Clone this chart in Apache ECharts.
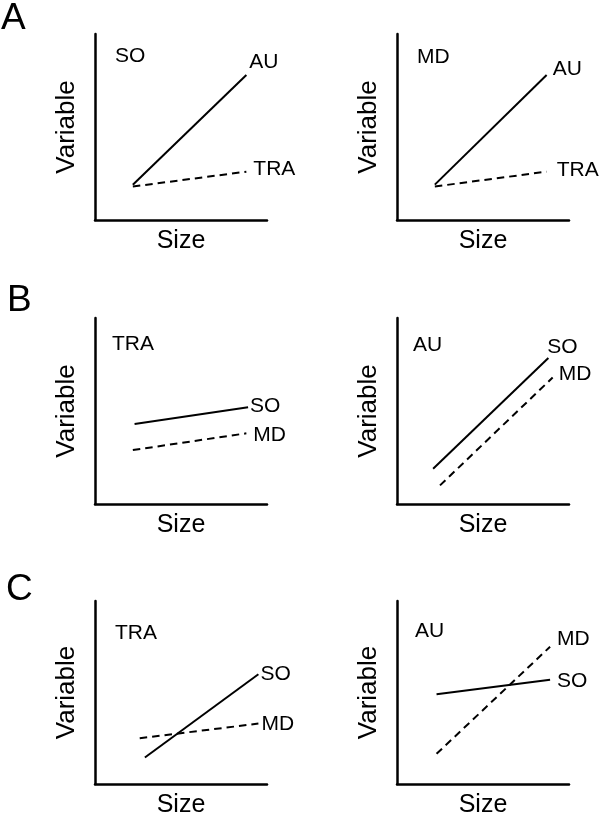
<!DOCTYPE html>
<html>
<head>
<meta charset="utf-8">
<script src="https://cdn.jsdelivr.net/npm/echarts@6/dist/echarts.min.js"></script>
<style>
html,body{margin:0;padding:0;background:#fff;}
#chart{width:600px;height:819px;}
</style>
</head>
<body>
<div id="chart"></div>
<script>
// ---- Data (schematic values on a 0-10 scale for each panel) ----
const panelLetters = ['A', 'B', 'C'];
const panelTitles = ['SO', 'MD', 'TRA', 'AU', 'TRA', 'AU'];
const xAxisName = 'Size';
const yAxisName = 'Variable';

// Panel A left (SO)
const aLeftAU  = [[2.2, 1.9], [8.8, 7.8]];
const aLeftTRA = [[2.2, 1.8], [8.8, 2.6]];
// Panel A right (MD)
const aRightAU  = [[2.2, 1.9], [8.7, 7.8]];
const aRightTRA = [[2.2, 1.8], [8.7, 2.6]];
// Panel B left (TRA)
const bLeftSO = [[2.3, 4.3], [8.9, 5.2]];
const bLeftMD = [[2.2, 2.9], [8.8, 3.8]];
// Panel B right (AU)
const bRightSO = [[2.1, 1.9], [8.8, 7.85]];
const bRightMD = [[2.5, 1.0], [9.05, 6.8]];
// Panel C left (TRA)
const cLeftSO = [[2.9, 1.45], [9.5, 6.0]];
const cLeftMD = [[2.6, 2.5], [9.5, 3.3]];
// Panel C right (AU)
const cRightSO = [[2.3, 4.9], [8.9, 5.7]];
const cRightMD = [[2.3, 1.65], [8.9, 7.5]];

// ---- Layout / styles ----
const FONT = 'Liberation Sans, Arial, Helvetica, sans-serif';
const cols = [95, 397];
const rows = [34, 318, 601];
const GW = 172, GH = 186;

const grids = [], xAxes = [], yAxes = [];
for (let r = 0; r < 3; r++) {
  for (let c = 0; c < 2; c++) {
    const i = grids.length;
    grids.push({ left: cols[c], top: rows[r], width: GW, height: GH });
    xAxes.push({
      type: 'value', gridIndex: i, min: 0, max: 10,
      name: xAxisName, nameLocation: 'middle', nameGap: 9,
      nameTextStyle: { fontSize: 25, color: '#000', fontFamily: FONT, verticalAlign: 'top' },
      axisLine: { show: true, lineStyle: { color: '#000', width: 2.5 } },
      axisTick: { show: false }, axisLabel: { show: false }, splitLine: { show: false }
    });
    yAxes.push({
      type: 'value', gridIndex: i, min: 0, max: 10,
      name: yAxisName, nameLocation: 'middle', nameGap: 15,
      nameTextStyle: { fontSize: 26, color: '#000', fontFamily: FONT },
      axisLine: { show: true, lineStyle: { color: '#000', width: 2.5 } },
      axisTick: { show: false }, axisLabel: { show: false }, splitLine: { show: false }
    });
  }
}

function mkSeries(name, data, idx, dashed, offset) {
  return {
    type: 'line', name: name, data: data,
    xAxisIndex: idx, yAxisIndex: idx,
    symbol: 'none', silent: true, animation: false,
    lineStyle: { color: '#000', width: 2, type: dashed ? [7.5, 5] : 'solid' },
    endLabel: {
      show: true, formatter: '{a}', distance: 0, offset: offset,
      fontSize: 21, color: '#000', fontFamily: FONT, align: 'left', verticalAlign: 'middle'
    }
  };
}

const series = [
  mkSeries('AU', aLeftAU, 0, false, [3, -13]),
  mkSeries('TRA', aLeftTRA, 0, true, [7, -2]),
  mkSeries('AU', aRightAU, 1, false, [6, -6]),
  mkSeries('TRA', aRightTRA, 1, true, [10, -1]),
  mkSeries('SO', bLeftSO, 2, false, [2, -1]),
  mkSeries('MD', bLeftMD, 2, true, [7, 2]),
  mkSeries('SO', bRightSO, 3, false, [-1, -11]),
  mkSeries('MD', bRightMD, 3, true, [6, -3]),
  mkSeries('SO', cLeftSO, 4, false, [2, 0]),
  mkSeries('MD', cLeftMD, 4, true, [3, 1]),
  mkSeries('MD', cRightMD, 5, true, [7, -8]),
  mkSeries('SO', cRightSO, 5, false, [7, 2])
];

const titlePos = [[115, 46], [417, 47], [112, 334], [413, 335], [115, 623], [415, 621]];
const letterPos = [[1, 0], [7, 282], [6, 571]];
const titles = [];
panelTitles.forEach((t, i) => titles.push({
  text: t, left: titlePos[i][0], top: titlePos[i][1], padding: 0,
  textStyle: { fontSize: 21, fontWeight: 'normal', color: '#000', fontFamily: FONT }
}));
panelLetters.forEach((t, i) => titles.push({
  text: t, left: letterPos[i][0], top: letterPos[i][1], padding: 0,
  textStyle: { fontSize: 37, fontWeight: 'normal', color: '#000', fontFamily: FONT }
}));

const chart = echarts.init(document.getElementById('chart'), null, { renderer: 'canvas' });
chart.setOption({
  animation: false,
  backgroundColor: '#fff',
  title: titles,
  grid: grids, xAxis: xAxes, yAxis: yAxes,
  series: series
});
</script>
</body>
</html>
